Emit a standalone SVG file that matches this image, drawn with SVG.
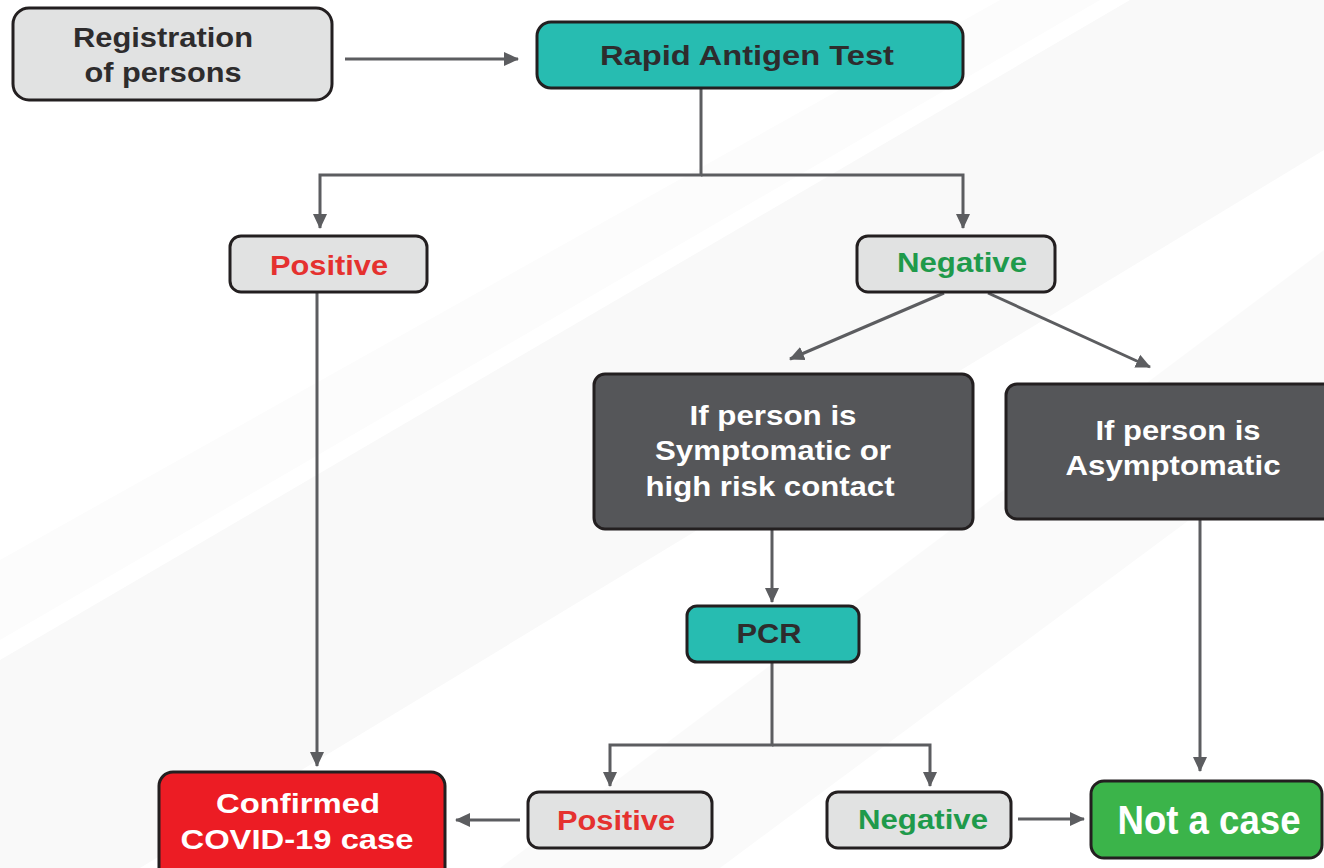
<svg xmlns="http://www.w3.org/2000/svg" width="1324" height="868" viewBox="0 0 1324 868">
<style>
.box{stroke:#231f20;stroke-width:3}
.grey{fill:#e1e2e2}
.teal{fill:#27bcb1}
.dark{fill:#555659}
.red{fill:#ec1c24}
.green{fill:#3bb44a}
.t{font-family:"Liberation Sans",Arial,sans-serif;font-weight:bold;text-anchor:middle}
.dk{fill:#2e2c2d;font-size:27px}
.w{fill:#ffffff;font-size:28px}
.pos{fill:#e5312f;font-size:27px}
.neg{fill:#1f9a4b;font-size:27px}
.con{fill:none;stroke:#5c5d60;stroke-width:3}
</style>
<defs>
<marker id="ah" markerUnits="userSpaceOnUse" markerWidth="16" markerHeight="16" viewBox="0 0 16 16" refX="14" refY="8" orient="auto">
<path d="M0,1 L15,8 L0,15 Z" fill="#5c5d60"/>
</marker>
</defs>
<rect width="1324" height="868" fill="#ffffff"/>
<g id="background">
<polygon points="0,660 0,868 140,868 1324,150 1324,0 1130,0" fill="#f9f9f9"/>
<polygon points="0,560 0,640 1100,0 1000,0" fill="#fcfcfc"/>
<polygon points="500,868 720,868 1324,420 1324,250" fill="#fafafa"/>
</g>
<g id="connectors">
<line class="con" x1="345" y1="59" x2="518" y2="59" marker-end="url(#ah)"/>
<polyline class="con" points="701,88 701,175 320,175 320,228" marker-end="url(#ah)"/>
<polyline class="con" points="701,175 963,175 963,228" marker-end="url(#ah)"/>
<line class="con" x1="317" y1="292" x2="317" y2="766" marker-end="url(#ah)"/>
<line class="con" x1="944" y1="293" x2="790" y2="359" marker-end="url(#ah)"/>
<line class="con" x1="988" y1="293" x2="1150" y2="367" marker-end="url(#ah)"/>
<line class="con" x1="772" y1="530" x2="772" y2="602" marker-end="url(#ah)"/>
<polyline class="con" points="772,662 772,745 610,745 610,786" marker-end="url(#ah)"/>
<polyline class="con" points="772,745 930,745 930,786" marker-end="url(#ah)"/>
<line class="con" x1="1200" y1="519" x2="1200" y2="771" marker-end="url(#ah)"/>
<line class="con" x1="520" y1="820" x2="456" y2="820" marker-end="url(#ah)"/>
<line class="con" x1="1018" y1="819" x2="1084" y2="819" marker-end="url(#ah)"/>
</g>
<g id="registration">
<rect class="box grey" x="13" y="8" width="319" height="92" rx="16"/>
<text class="t dk" x="163" y="47" textLength="180" lengthAdjust="spacingAndGlyphs">Registration</text>
<text class="t dk" x="163" y="82" textLength="157" lengthAdjust="spacingAndGlyphs">of persons</text>
</g>
<g id="rapid-antigen-test">
<rect class="box teal" x="537" y="22" width="426" height="66" rx="14"/>
<text class="t dk" x="747" y="65" textLength="294" lengthAdjust="spacingAndGlyphs">Rapid Antigen Test</text>
</g>
<g id="positive-1">
<rect class="box grey" x="230" y="236" width="197" height="56" rx="11"/>
<text class="t pos" x="329" y="275" textLength="118" lengthAdjust="spacingAndGlyphs">Positive</text>
</g>
<g id="negative-1">
<rect class="box grey" x="857" y="236" width="198" height="56" rx="11"/>
<text class="t neg" x="962" y="272" textLength="130" lengthAdjust="spacingAndGlyphs">Negative</text>
</g>
<g id="symptomatic">
<rect class="box dark" x="594" y="374" width="379" height="155" rx="11"/>
<text class="t w" x="773" y="425" textLength="167" lengthAdjust="spacingAndGlyphs">If person is</text>
<text class="t w" x="773" y="460" textLength="236" lengthAdjust="spacingAndGlyphs">Symptomatic or</text>
<text class="t w" x="770" y="496" textLength="249" lengthAdjust="spacingAndGlyphs">high risk contact</text>
</g>
<g id="asymptomatic">
<rect class="box dark" x="1006" y="384" width="330" height="135" rx="11"/>
<text class="t w" x="1178" y="440" textLength="165" lengthAdjust="spacingAndGlyphs">If person is</text>
<text class="t w" x="1173" y="475" textLength="215" lengthAdjust="spacingAndGlyphs">Asymptomatic</text>
</g>
<g id="pcr">
<rect class="box teal" x="687" y="606" width="172" height="56" rx="10"/>
<text class="t dk" x="769" y="643" textLength="65" lengthAdjust="spacingAndGlyphs">PCR</text>
</g>
<g id="confirmed">
<rect class="box red" x="159" y="772" width="286" height="110" rx="14"/>
<text class="t w" x="298" y="813" textLength="164" lengthAdjust="spacingAndGlyphs">Confirmed</text>
<text class="t w" x="297" y="849" textLength="233" lengthAdjust="spacingAndGlyphs">COVID-19 case</text>
</g>
<g id="positive-2">
<rect class="box grey" x="528" y="792" width="184" height="56" rx="11"/>
<text class="t pos" x="616" y="830" textLength="118" lengthAdjust="spacingAndGlyphs">Positive</text>
</g>
<g id="negative-2">
<rect class="box grey" x="827" y="792" width="184" height="56" rx="11"/>
<text class="t neg" x="923" y="829" textLength="130" lengthAdjust="spacingAndGlyphs">Negative</text>
</g>
<g id="not-a-case">
<rect class="box green" x="1091" y="781" width="231" height="77" rx="13"/>
<text class="t" x="1209" y="834" font-size="41" fill="#ffffff" textLength="183" lengthAdjust="spacingAndGlyphs">Not a case</text>
</g>
</svg>
